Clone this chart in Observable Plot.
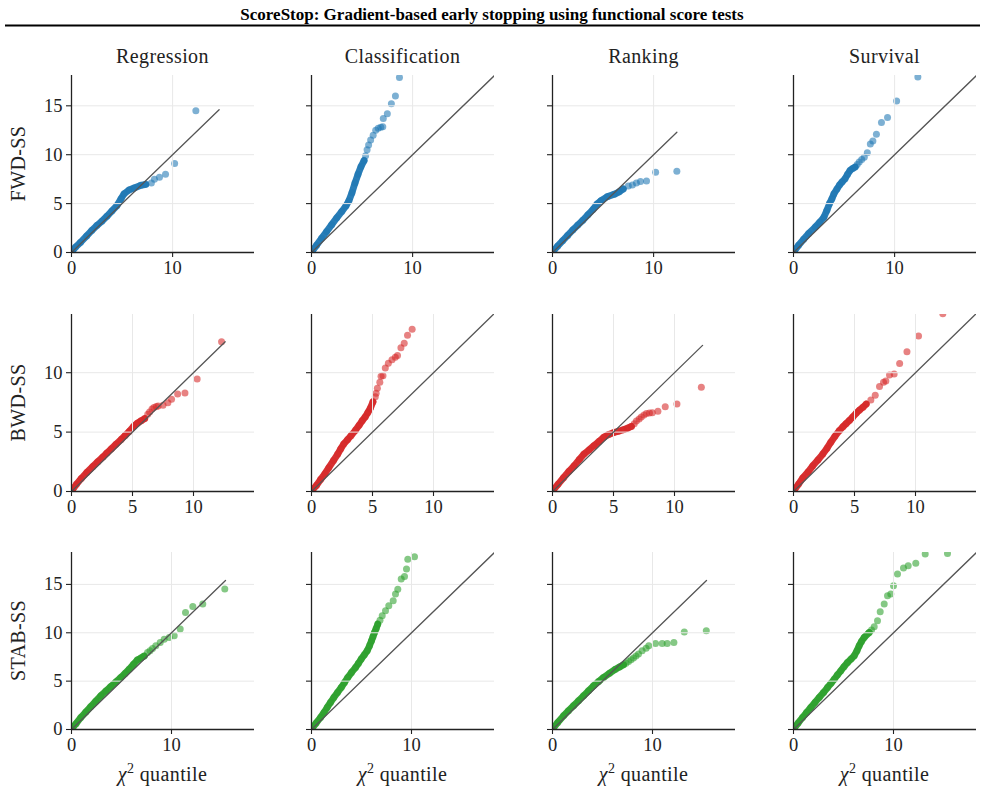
<!DOCTYPE html>
<html>
<head>
<meta charset="utf-8">
<script src="https://cdn.jsdelivr.net/npm/d3@7"></script>
<script src="https://cdn.jsdelivr.net/npm/@observablehq/plot@0.6"></script>
<style>
  html, body { margin: 0; padding: 0; background: #fff; }
  #fig { position: relative; width: 985px; height: 807px; overflow: hidden; background: #fff; }
  #fig > svg, #fig > figure { position: absolute; margin: 0; }
</style>
</head>
<body>
<div id="fig"></div>
<script>
// Column and row names
const tasks = ["Regression", "Classification", "Ranking", "Survival"];
const methods = ["FWD-SS", "BWD-SS", "STAB-SS"];
const methodColors = ["#1f77b4", "#d62728", "#2ca02c"];

// Axis limits and ticks per row (x shared and y shared within a row)
const rowXMax = [18.1, 15.0, 18.3];
const rowYMax = [18.1, 14.9, 18.3];
const rowXTicks = [[0, 10], [0, 5, 10], [0, 10]];
const rowYTicks = [[0, 5, 10, 15], [0, 5, 10], [0, 5, 10, 15]];

// End of the y = x reference line in each panel (row by row)
const refLineEnd = [
  [14.6, 19, 12.3, 19],
  [12.6, 19, 12.3, 19],
  [15.4, 19, 15.4, 19]
];

// QQ points: [chi-square quantile, observed statistic]
// "Body" = the dense run of overlapping points, "Tail" = separated upper points

// FWD-SS
const regressionFwdBody = [[0.05,0.1],[0.4,0.55],[0.9,1.05],[1.5,1.7],[2.0,2.25],[2.5,2.75],[3.0,3.2],[3.5,3.7],[4.0,4.25],[4.5,4.8],[4.9,5.5],[5.2,6.0],[5.7,6.4],[6.2,6.6],[6.85,6.87],[7.35,6.97]];
const regressionFwdTail = [[7.9,7.1],[8.2,7.5],[8.7,7.7],[9.3,8.0],[10.2,9.1],[12.3,14.5]];
const classificationFwdBody = [[0.05,0.1],[0.5,0.75],[1.0,1.45],[1.5,2.15],[2.0,2.85],[2.5,3.55],[3.0,4.2],[3.4,4.75],[3.7,5.3],[4.0,6.1],[4.3,7.1],[4.6,8.0],[4.9,8.8],[5.2,9.4]];
const classificationFwdTail = [[5.35,9.9],[5.5,10.5],[5.65,11.0],[5.85,11.5],[6.1,12.0],[6.35,12.5],[6.6,12.7],[6.85,12.8],[7.05,12.85],[7.1,13.7],[7.5,14.2],[7.9,15.2],[8.3,16.0],[8.7,17.9]];
const rankingFwdBody = [[0.05,0.1],[0.5,0.65],[1.0,1.2],[1.5,1.75],[2.0,2.3],[2.5,2.8],[3.0,3.3],[3.5,3.85],[4.0,4.4],[4.4,4.95],[4.8,5.3],[5.4,5.7],[6.1,5.95],[6.6,6.2],[7.0,6.5]];
const rankingFwdTail = [[7.5,6.8],[7.9,6.9],[8.3,7.1],[8.7,7.25],[9.3,7.3],[10.2,8.2],[12.3,8.3]];
const survivalFwdBody = [[0.05,0.1],[0.5,0.75],[1.0,1.35],[1.5,1.95],[2.15,2.6],[2.6,3.1],[3.0,3.6],[3.3,4.3],[3.56,5.0],[3.8,5.5],[4.0,6.0],[4.3,6.5],[4.55,6.9],[4.8,7.2],[5.1,7.55],[5.35,8.0],[5.6,8.4],[5.85,8.6],[6.1,8.74]];
const survivalFwdTail = [[6.3,9.0],[6.5,9.25],[6.75,9.5],[7.0,9.75],[7.3,10.2],[7.6,11.1],[7.85,11.4],[8.2,12.1],[8.7,13.3],[9.3,13.8],[10.2,15.5],[12.3,17.95]];

// BWD-SS
const regressionBwdBody = [[0.05,0.1],[0.4,0.6],[0.8,1.1],[1.25,1.6],[1.75,2.1],[2.15,2.5],[2.57,2.9],[2.9,3.25],[3.25,3.58],[3.65,3.98],[4.07,4.38],[4.4,4.72],[4.75,5.08],[5.1,5.5],[5.4,5.75],[5.7,5.95],[6.0,6.14]];
const regressionBwdTail = [[6.25,6.5],[6.4,6.7],[6.6,6.95],[6.75,7.07],[6.95,7.15],[7.1,7.2],[7.5,7.27],[7.9,7.47],[8.2,7.76],[8.7,8.2],[9.3,8.3],[10.3,9.46],[12.3,12.6]];
const classificationBwdBody = [[0.05,0.1],[0.4,0.5],[0.74,1.0],[1.1,1.5],[1.42,2.0],[1.8,2.6],[2.15,3.15],[2.4,3.6],[2.64,4.0],[2.95,4.35],[3.24,4.7],[3.6,5.15],[3.9,5.57],[4.15,5.95],[4.4,6.28],[4.62,6.65],[4.82,7.0],[5.04,7.55]];
const classificationBwdTail = [[5.23,7.98],[5.3,8.27],[5.4,8.7],[5.6,9.2],[5.7,9.7],[5.86,9.74],[6.05,10.4],[6.3,10.8],[6.6,11.1],[6.87,11.3],[7.05,11.45],[7.33,12.1],[7.6,12.47],[7.87,13.15],[8.25,13.66]];
const rankingBwdBody = [[0.05,0.1],[0.45,0.6],[0.9,1.16],[1.35,1.7],[1.77,2.16],[2.2,2.7],[2.58,3.15],[3.0,3.5],[3.4,3.86],[3.8,4.2],[4.2,4.57],[4.6,4.8],[4.97,4.94],[5.4,5.07],[5.8,5.2],[6.15,5.33],[6.47,5.48]];
const rankingBwdTail = [[6.7,5.7],[6.88,5.94],[7.1,6.1],[7.28,6.28],[7.5,6.45],[7.7,6.56],[7.95,6.6],[8.18,6.62],[8.64,6.76],[9.24,7.13],[10.2,7.36],[12.2,8.78]];
const survivalBwdBody = [[0.05,0.1],[0.4,0.6],[0.77,1.16],[1.2,1.65],[1.58,2.16],[2.0,2.65],[2.4,3.15],[2.75,3.65],[3.06,4.15],[3.4,4.65],[3.77,5.14],[4.05,5.45],[4.3,5.7],[4.6,6.0],[4.86,6.28],[5.15,6.6],[5.4,6.85],[5.7,7.1],[5.96,7.36]];
const survivalBwdTail = [[6.34,7.7],[6.7,8.1],[7.05,8.83],[7.38,9.2],[7.57,9.3],[7.87,9.8],[8.25,9.9],[8.7,10.77],[9.3,11.76],[10.25,13.1],[12.24,14.97]];

// STAB-SS
const regressionStabBody = [[0.05,0.1],[0.45,0.6],[0.93,1.24],[1.43,1.8],[1.93,2.38],[2.43,2.93],[2.93,3.48],[3.43,3.97],[3.93,4.45],[4.43,4.9],[4.93,5.38],[5.35,5.8],[5.77,6.24],[6.2,6.75],[6.6,7.2],[6.95,7.4],[7.27,7.6]];
const regressionStabTail = [[7.6,7.97],[7.85,8.15],[8.1,8.38],[8.43,8.66],[8.87,9.0],[9.27,9.34],[9.77,9.5],[10.27,9.7],[10.87,10.38],[11.4,12.1],[12.13,12.72],[13.13,12.97],[15.33,14.52]];
const classificationStabBody = [[0.05,0.1],[0.45,0.65],[0.9,1.24],[1.25,1.75],[1.57,2.28],[1.9,2.8],[2.23,3.3],[2.6,3.82],[2.97,4.34],[3.3,4.86],[3.63,5.38],[4.0,5.9],[4.4,6.4],[4.7,6.85],[4.97,7.28],[5.27,7.7],[5.57,8.14],[5.8,8.65],[6.0,9.17],[6.15,9.6],[6.3,10.03],[6.47,10.45],[6.63,10.9]];
const classificationStabTail = [[6.85,11.3],[7.07,11.76],[7.4,12.28],[7.73,12.8],[8.17,13.3],[8.4,14.0],[8.63,14.5],[8.97,15.55],[9.3,15.83],[9.5,16.6],[9.63,17.6],[10.3,17.86]];
const rankingStabBody = [[0.05,0.1],[0.5,0.7],[1.1,1.41],[1.6,1.95],[2.1,2.45],[2.6,2.97],[3.1,3.48],[3.6,4.0],[4.1,4.52],[4.6,4.95],[5.1,5.38],[5.7,5.82],[6.3,6.24],[6.7,6.47],[7.1,6.69]];
const rankingStabTail = [[7.35,6.85],[7.6,7.03],[7.85,7.2],[8.1,7.38],[8.35,7.6],[8.6,7.8],[8.96,8.14],[9.36,8.41],[9.63,8.66],[10.3,8.9],[10.97,8.9],[11.47,8.9],[12.14,9.0],[13.18,10.07],[15.38,10.2]];
const survivalStabBody = [[0.05,0.1],[0.45,0.65],[0.9,1.24],[1.3,1.75],[1.73,2.28],[2.15,2.8],[2.57,3.31],[3.0,3.82],[3.4,4.34],[3.75,4.77],[4.07,5.2],[4.4,5.65],[4.73,6.07],[5.05,6.5],[5.4,6.93],[5.75,7.28],[6.07,7.62],[6.35,8.15],[6.57,8.66],[6.8,9.1],[7.07,9.52],[7.57,10.03]];
const survivalStabTail = [[7.8,10.3],[8.07,10.62],[8.4,11.24],[8.67,12.17],[9.07,12.97],[9.4,13.83],[9.73,14.0],[10.0,14.86],[10.4,16.07],[11.0,16.69],[11.47,16.93],[12.23,17.2],[13.17,18.14],[15.4,18.2]];

const bodies = [
  [regressionFwdBody, classificationFwdBody, rankingFwdBody, survivalFwdBody],
  [regressionBwdBody, classificationBwdBody, rankingBwdBody, survivalBwdBody],
  [regressionStabBody, classificationStabBody, rankingStabBody, survivalStabBody]
];
const tails = [
  [regressionFwdTail, classificationFwdTail, rankingFwdTail, survivalFwdTail],
  [regressionBwdTail, classificationBwdTail, rankingBwdTail, survivalBwdTail],
  [regressionStabTail, classificationStabTail, rankingStabTail, survivalStabTail]
];

// Page layout (pixels)
const frameLeft = [71, 311, 552, 793];
const frameTop = [75, 314, 552];
const frameW = 183, frameH = 177;
const mL = 62, mR = 10, mT = 8, mB = 34;
const serif = '"Liberation Serif", "Times New Roman", serif';
const ink = "#222";

const fig = document.getElementById("fig");

function panel(r, c) {
  const color = methodColors[r];
  const body = bodies[r][c];
  const pts = body.concat(tails[r][c]);
  const end = refLineEnd[r][c];
  const gx = rowXTicks[r].filter(d => d > 0);
  const gy = rowYTicks[r].filter(d => d > 0);
  return Plot.plot({
    width: mL + frameW + mR,
    height: mT + frameH + mB,
    marginLeft: mL, marginRight: mR, marginTop: mT, marginBottom: mB,
    style: {fontFamily: serif, fontSize: "18.5px", color: ink, background: "transparent", overflow: "visible"},
    x: {domain: [0, rowXMax[r]]},
    y: {domain: [0, rowYMax[r]]},
    marks: [
      Plot.line(body, {x: d => d[0], y: d => d[1], stroke: color, strokeWidth: 6.8, strokeOpacity: 0.95, strokeLinecap: "round", strokeLinejoin: "round", clip: true}),
      Plot.dot(pts, {x: d => d[0], y: d => d[1], r: 3.5, fill: color, fillOpacity: 0.58, stroke: "none", clip: true}),
      Plot.gridX(gx, {stroke: "#e8e8e8", strokeOpacity: 1, strokeWidth: 1}),
      Plot.gridY(gy, {stroke: "#e8e8e8", strokeOpacity: 1, strokeWidth: 1}),
      Plot.line([[0, 0], [end, end]], {x: d => d[0], y: d => d[1], stroke: "#555", strokeWidth: 1.3, clip: true}),
      Plot.axisX(rowXTicks[r], {tickSize: 5, tickPadding: 3, tickFormat: d => String(d), label: null, stroke: ink, strokeWidth: 1.1}),
      Plot.axisY(rowYTicks[r], {tickSize: 5, tickPadding: 4, tickFormat: c === 0 ? (d => String(d)) : (() => ""), label: null, stroke: ink, strokeWidth: 1.1}),
      Plot.ruleX([0], {stroke: ink, strokeWidth: 1.3}),
      Plot.ruleY([0], {stroke: ink, strokeWidth: 1.3})
    ]
  });
}

for (let r = 0; r < 3; r++) {
  for (let c = 0; c < 4; c++) {
    const p = panel(r, c);
    p.style.left = (frameLeft[c] - mL) + "px";
    p.style.top = (frameTop[r] - mT) + "px";
    fig.appendChild(p);
  }
}

// Titles, row labels and axis labels
const svg = d3.select(fig).append("svg")
  .attr("width", 985).attr("height", 807)
  .style("left", "0px").style("top", "0px")
  .style("pointer-events", "none")
  .attr("font-family", serif)
  .style("font-family", serif)
  .attr("fill", ink);

svg.append("text")
  .attr("x", 492).attr("y", 19.5)
  .attr("text-anchor", "middle")
  .attr("font-weight", "bold").attr("font-size", 17)
  .attr("fill", "#000")
  .text("ScoreStop: Gradient-based early stopping using functional score tests");

svg.append("rect")
  .attr("x", 5).attr("y", 24.5).attr("width", 975).attr("height", 2)
  .attr("fill", "#000");

tasks.forEach((t, c) => {
  svg.append("text")
    .attr("x", frameLeft[c] + frameW / 2).attr("y", 63)
    .attr("text-anchor", "middle").attr("font-size", 20)
    .style("letter-spacing", "0.4px")
    .text(t);
  const lab = svg.append("text")
    .attr("x", frameLeft[c] + frameW / 2).attr("y", 781)
    .attr("text-anchor", "middle").attr("font-size", 20)
    .style("letter-spacing", "0.4px")
    .style("white-space", "pre");
  lab.append("tspan").attr("font-style", "italic").text("χ");
  lab.append("tspan").attr("font-size", 14).attr("dy", -8).text("2");
  lab.append("tspan").attr("dy", 8).text(" quantile");
});

methods.forEach((m, r) => {
  svg.append("text")
    .attr("transform", `translate(25,${frameTop[r] + frameH / 2}) rotate(-90)`)
    .attr("text-anchor", "middle").attr("font-size", 20)
    .style("letter-spacing", "0.4px")
    .text(m);
});
</script>
</body>
</html>
